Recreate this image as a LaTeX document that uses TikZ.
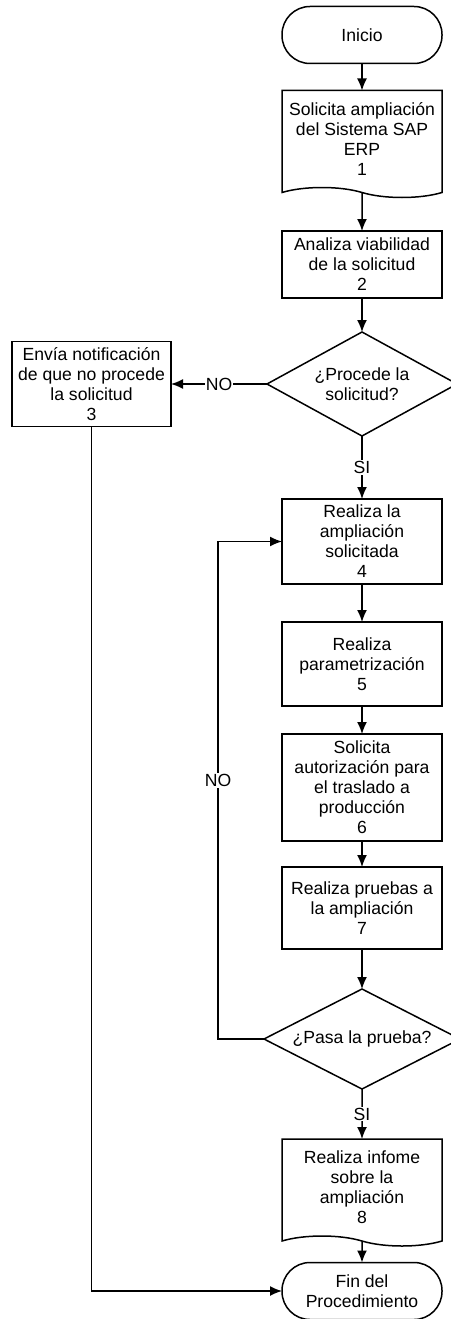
\documentclass[tikz,border=0pt]{standalone}
\usepackage{fontspec}
\setmainfont{Liberation Sans}
\usetikzlibrary{arrows.meta, positioning, shapes.geometric, shapes.symbols}

\begin{document}
\begin{tikzpicture}[x=1pt,y=1pt,>={Latex[length=12pt,width=10pt]},line width=1.5pt,
				every node/.style={font=\fontsize{17.6}{20}\selectfont,outer sep=0pt},
				proc/.style={rectangle,draw,align=center,minimum width=160pt,inner sep=1pt},
				doc/.style={tape,draw,tape bend top=none,tape bend bottom=out and in,
					tape bend height=10pt,align=center,minimum width=160pt,inner sep=1pt},
				term/.style={rectangle,rounded corners=28pt,draw,align=center,minimum width=160pt,minimum height=57pt},
				decision/.style={diamond,draw,align=center,inner sep=0pt,aspect=2},
				lbl/.style={fill=white,inner sep=1pt}]
				
				\useasboundingbox (0,0) rectangle (450,-1319);
				
				\node[term] (inicio) at (362,-35) {Inicio};
				\node[doc,minimum height=107pt] (s1) [below=27pt of inicio] {Solicita ampliación\\del Sistema SAP\\ERP\\1};
				\node[proc,minimum height=67pt] (s2) [below=43.5pt of s1] {Analiza viabilidad\\de la solicitud\\2};
				\node[decision,minimum width=190pt,minimum height=104pt] (d1) [below=34pt of s2] {¿Procede la\\solicitud?};
				\node[proc,minimum height=85pt,minimum width=159pt] (s3) [left=96pt of d1] {Envía notificación\\de que no procede\\la solicitud\\3};
				\node[proc,minimum height=85pt] (s4) [below=63pt of d1] {Realiza la\\ampliación\\solicitada\\4};
				\node[proc,minimum height=84pt] (s5) [below=38pt of s4] {Realiza\\parametrización\\5};
				\node[proc,minimum height=107pt] (s6) [below=28pt of s5] {Solicita\\autorización para\\el traslado a\\producción\\6};
				\node[proc,minimum height=82pt] (s7) [below=26pt of s6] {Realiza pruebas a\\la ampliación\\7};
				\node[decision,minimum width=196pt,minimum height=100pt] (d2) [below=40pt of s7] {¿Pasa la prueba?};
				\node[doc,minimum height=107pt] (s8) [below=50pt of d2] {Realiza infome\\sobre la\\ampliación\\8};
				\node[term] (fin) [below=26.5pt of s8] {Fin del\\Procedimiento};
				
				\draw[->] (inicio) -- (s1);
				\draw[->] (s1) -- (s2);
				\draw[->] (s2) -- (d1);
				\draw[->] (d1) -- node[lbl]{NO} (s3);
				\draw[->] (d1) -- node[lbl]{SI} (s4);
				\draw[->] (s4) -- (s5);
				\draw[->] (s5) -- (s6);
				\draw[->] (s6) -- (s7);
				\draw[->] (s7) -- (d2);
				\draw[->] (d2.west) -- ++(-46,0) |- node[lbl,pos=0.26]{NO} (s4.west);
				\draw[->] (d2) -- node[lbl]{SI} (s8);
				\draw[->] (s8) -- (fin);
				\draw[->] (s3) |- (fin);
			\end{tikzpicture}
\end{document}
